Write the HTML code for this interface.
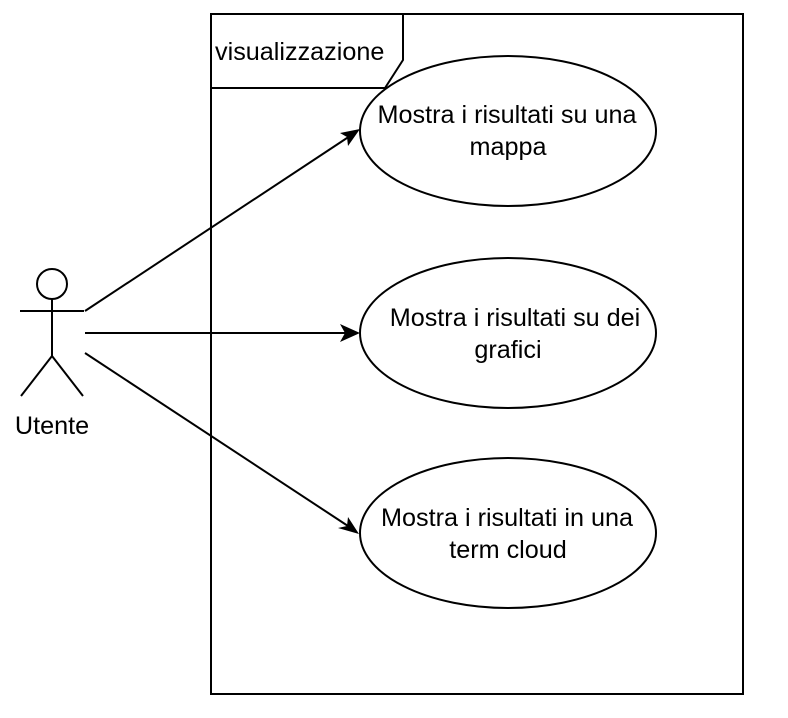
<!DOCTYPE html>
<html><head><meta charset="utf-8"><style>
html,body{margin:0;padding:0;background:#fff;}
svg{display:block;}
text{font-family:"Liberation Sans",Arial,sans-serif;fill:#000;}
</style></head><body>
<svg width="788" height="718" viewBox="0 0 788 718" xmlns="http://www.w3.org/2000/svg">
<rect width="788" height="718" fill="#fff"/>
<rect x="211" y="14" width="532" height="680" fill="none" stroke="#000" stroke-width="2"/>
<path d="M211 88 H385 L403 60 V14" fill="none" stroke="#000" stroke-width="2"/>
<text x="215" y="60" font-size="25.2">visualizzazione</text>
<ellipse cx="508" cy="131" rx="148" ry="75" fill="#fff" stroke="#000" stroke-width="2"/>
<ellipse cx="508" cy="333" rx="148" ry="75" fill="#fff" stroke="#000" stroke-width="2"/>
<ellipse cx="508" cy="533" rx="148" ry="75" fill="#fff" stroke="#000" stroke-width="2"/>
<g font-size="25.2" text-anchor="middle">
<text x="507" y="123">Mostra i risultati su una</text>
<text x="508" y="155">mappa</text>
<text x="515" y="326">Mostra i risultati su dei</text>
<text x="508" y="358">grafici</text>
<text x="507" y="526">Mostra i risultati in una</text>
<text x="508" y="558">term cloud</text>
</g>
<circle cx="52" cy="284" r="15" fill="#fff" stroke="#000" stroke-width="2"/>
<g stroke="#000" stroke-width="2" fill="none">
<line x1="52" y1="299" x2="52" y2="356"/>
<line x1="20" y1="311" x2="84" y2="311"/>
<line x1="52" y1="356" x2="21" y2="396"/>
<line x1="52" y1="356" x2="83" y2="396"/>
<line x1="85" y1="311" x2="350" y2="136"/>
<line x1="85" y1="333" x2="348" y2="333"/>
<line x1="85" y1="353" x2="348" y2="526"/>
</g>
<g fill="#000">
<path d="M360 129 L340 133 L347 137 L348 146 Z"/>
<path d="M360 333 L340 324 L345 333 L340 342 Z"/>
<path d="M359 534 L348 517 L347 526 L338 528 Z"/>
</g>
<text x="52" y="434" font-size="25.2" text-anchor="middle">Utente</text>
</svg>
</body></html>
